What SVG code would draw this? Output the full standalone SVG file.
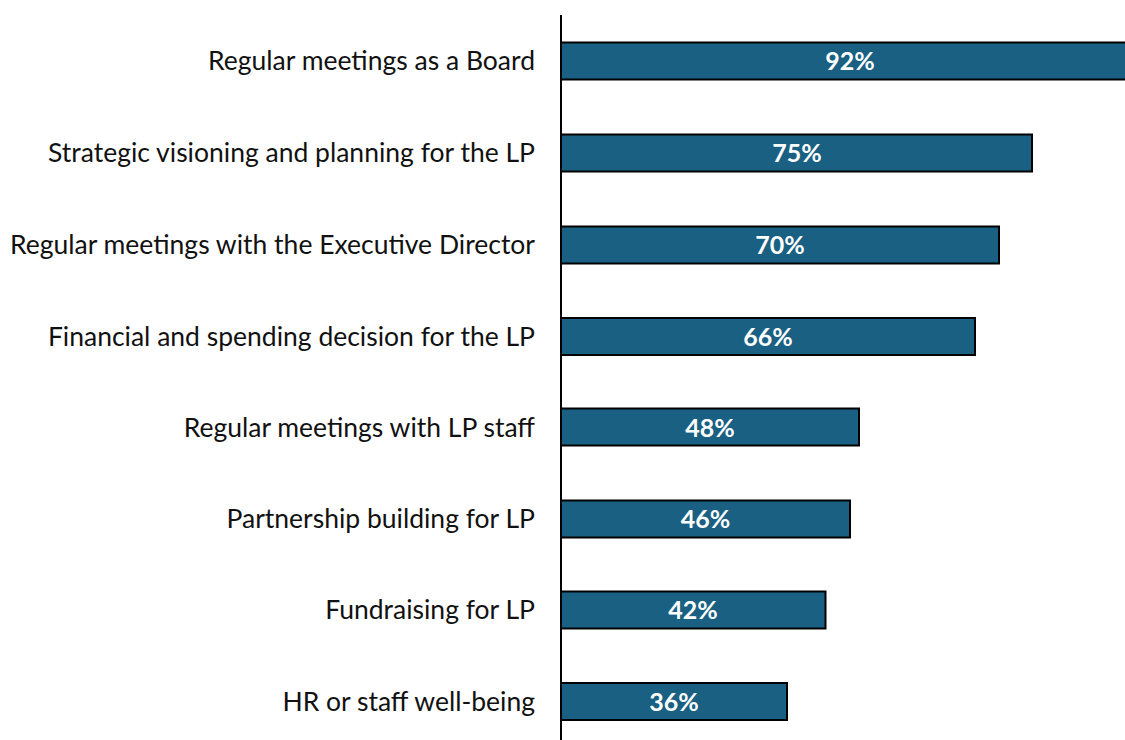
<svg xmlns="http://www.w3.org/2000/svg" width="1125" height="740" viewBox="0 0 1125 740">
<style>
.lbl{font-family:Lato,"Open Sans",sans-serif;font-size:26.5px;fill:#111;text-anchor:end}
.bar{fill:#196082;stroke:#000;stroke-width:2}
.val{font-family:Lato,"Open Sans",sans-serif;font-size:25px;font-weight:bold;fill:#fff;text-anchor:middle}
</style>
<rect width="1125" height="740" fill="#fff"/>
<g id="bar1"><rect class="bar" x="561" y="42.5" width="578" height="37"/><text class="val" x="850" y="70">92%</text><text class="lbl" x="535" y="70">Regular meetings as a Board</text></g>
<g id="bar2"><rect class="bar" x="561" y="134.5" width="471" height="37"/><text class="val" x="797" y="162">75%</text><text class="lbl" x="535" y="162">Strategic visioning and planning for the LP</text></g>
<g id="bar3"><rect class="bar" x="561" y="226.5" width="438" height="37"/><text class="val" x="780" y="254">70%</text><text class="lbl" x="535" y="254">Regular meetings with the Executive Director</text></g>
<g id="bar4"><rect class="bar" x="561" y="318" width="414" height="37"/><text class="val" x="768" y="346">66%</text><text class="lbl" x="535" y="346">Financial and spending decision for the LP</text></g>
<g id="bar5"><rect class="bar" x="561" y="408.5" width="298" height="37"/><text class="val" x="710" y="437">48%</text><text class="lbl" x="535" y="437">Regular meetings with LP staff</text></g>
<g id="bar6"><rect class="bar" x="561" y="500.5" width="289" height="37"/><text class="val" x="705.5" y="528">46%</text><text class="lbl" x="535" y="528">Partnership building for LP</text></g>
<g id="bar7"><rect class="bar" x="561" y="591.5" width="264.5" height="37"/><text class="val" x="693" y="619">42%</text><text class="lbl" x="535" y="619">Fundraising for LP</text></g>
<g id="bar8"><rect class="bar" x="561" y="683" width="226" height="37"/><text class="val" x="674" y="711">36%</text><text class="lbl" x="535" y="711">HR or staff well-being</text></g>
<g id="axis"><line x1="561" y1="15" x2="561" y2="740" stroke="#000" stroke-width="2"/></g>
</svg>
